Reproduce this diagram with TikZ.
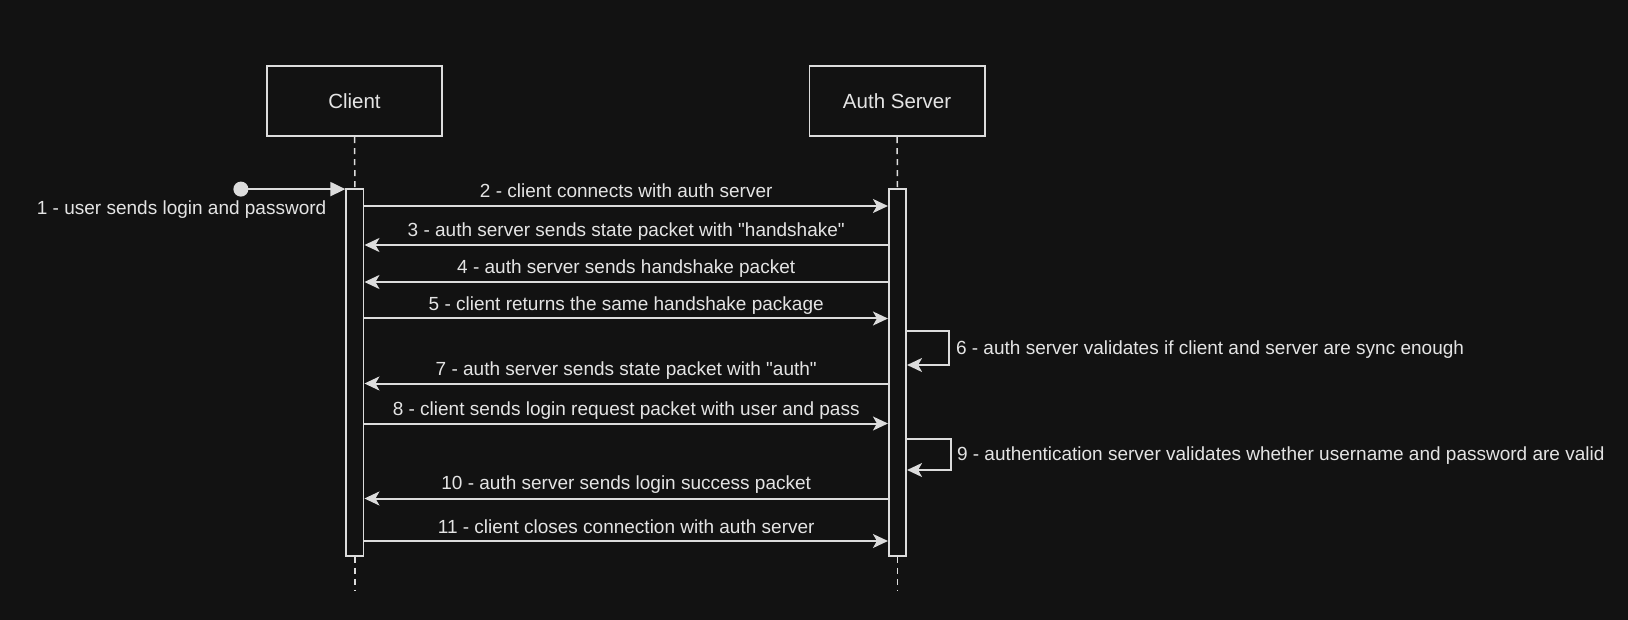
\documentclass[tikz,border=0pt]{standalone}
\usepackage{fontspec}
\setmainfont{Liberation Sans}
\usetikzlibrary{arrows.meta}
\definecolor{bgc}{HTML}{121212}
\definecolor{linec}{HTML}{DCDCDC}
\definecolor{textc}{HTML}{E4E4E4}
\font\qfont="Liberation Sans" at 19pt
\newcommand{\dq}{{\qfont\char34}}
\tikzset{
  actor/.style={draw=linec, line width=1.6pt, fill=bgc, minimum width=175.5pt, minimum height=70pt, inner sep=0pt, text=textc, font=\fontsize{20.5}{24}\selectfont},
  actbar/.style={draw=linec, line width=1.6pt, fill=bgc, minimum width=17.5pt, minimum height=367pt, inner sep=0pt},
  life/.style={draw=linec, line width=1.5pt, dash pattern=on 6pt off 5pt},
  msg/.style={draw=linec, line width=2pt, -{Stealth[length=15pt, width=14pt, inset=4pt]}},
  initmsg/.style={draw=linec, line width=2pt, -{Triangle[length=15pt, width=14pt]}},
  lbl/.style={text=textc, inner sep=0pt, font=\fontsize{19}{23}\selectfont},
  dotnode/.style={circle, fill=linec, draw=none, minimum size=15pt, inner sep=0pt}
}
\begin{document}
\begin{tikzpicture}[x=1pt,y=-1pt]
\fill[bgc] (0,0) rectangle (1628,620);
\useasboundingbox (0,0) rectangle (1628,620);

% actors
\node[actor] (client) at (354.5,101.3) {Client};
\node[actor] (server) at (897.1,101.3) {Auth Server};

% activation bars
\node[actbar] (cbar) at (354.9,372.6) {};
\node[actbar] (sbar) at (897.5,372.6) {};

% lifeline ends
\coordinate (cend) at (354.9,591);
\coordinate (send) at (897.5,591);

\draw[life] (client.south) -- (cbar.north);
\draw[life] (server.south) -- (sbar.north);
\draw[life] (cbar.south) -- (cend);
\draw[life] (sbar.south) -- (send);

% redraw bars on top
\node[actbar] at (cbar) {};
\node[actbar] at (sbar) {};

% 1 - initial message
\node[dotnode] (start) at (240.9,189.1) {};
\draw[initmsg] (start.center) -- (start.center -| cbar.west);
\node[lbl, anchor=base east] (l1) at (326.5,215) {1 - user sends login and password};

% messages
\draw[msg] (cbar.east |- 0,206) -- (sbar.west |- 0,206)
  node[lbl, midway, anchor=base, yshift=8pt] {2 - client connects with auth server};
\draw[msg] (sbar.west |- 0,245) -- (cbar.east |- 0,245)
  node[lbl, midway, anchor=base, yshift=8pt] {3 - auth server sends state packet with \dq handshake\dq};
\draw[msg] (sbar.west |- 0,282) -- (cbar.east |- 0,282)
  node[lbl, midway, anchor=base, yshift=8pt] {4 - auth server sends handshake packet};
\draw[msg] (cbar.east |- 0,318.5) -- (sbar.west |- 0,318.5)
  node[lbl, midway, anchor=base, yshift=8pt] {5 - client returns the same handshake package};

% 6 - self message
\draw[msg] (sbar.east |- 0,331) -- ++(42,0) -- ++(0,34)
  node[lbl, midway, anchor=west, xshift=6pt, yshift=-1.5pt] {6 - auth server validates if client and server are sync enough}
  -- (sbar.east |- 0,365);

\draw[msg] (sbar.west |- 0,383.5) -- (cbar.east |- 0,383.5)
  node[lbl, midway, anchor=base, yshift=8pt] {7 - auth server sends state packet with \dq auth\dq};
\draw[msg] (cbar.east |- 0,423.5) -- (sbar.west |- 0,423.5)
  node[lbl, midway, anchor=base, yshift=8pt] {8 - client sends login request packet with user and pass};

% 9 - self message
\draw[msg] (sbar.east |- 0,439) -- ++(44,0) -- ++(0,31)
  node[lbl, midway, anchor=west, xshift=5pt, yshift=-1pt] {9 - authentication server validates whether username and password are valid}
  -- (sbar.east |- 0,470);

\draw[msg] (sbar.west |- 0,498.5) -- (cbar.east |- 0,498.5)
  node[lbl, midway, anchor=base, yshift=9pt] {10 - auth server sends login success packet};
\draw[msg] (cbar.east |- 0,541) -- (sbar.west |- 0,541)
  node[lbl, midway, anchor=base, yshift=8pt] {11 - client closes connection with auth server};
\end{tikzpicture}
\end{document}
